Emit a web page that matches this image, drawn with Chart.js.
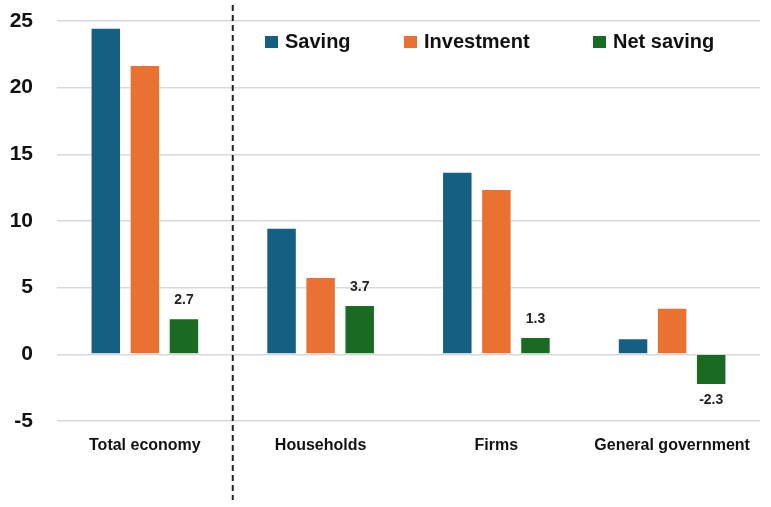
<!DOCTYPE html>
<html><head><meta charset="utf-8">
<script src="https://cdn.jsdelivr.net/npm/chart.js@4/dist/chart.umd.min.js"></script>
<style>html,body{margin:0;padding:0;background:#fff}#wrap{width:771px;height:507px}</style>
</head><body><div id="wrap"><canvas id="c" width="771" height="507"></canvas></div>
<script>
const categories = ["Total economy", "Households", "Firms", "General government"];
const saving = [24.5, 9.5, 13.7, 1.2];
const investment = [21.7, 5.8, 12.4, 3.5];
const netSaving = [2.7, 3.7, 1.3, -2.3];
const seriesNames = ["Saving", "Investment", "Net saving"];
const yTicks = [-5, 0, 5, 10, 15, 20, 25];

const colors = ["#156082", "#E97132", "#196B24"];

const legendPlugin = {
  id: 'customLegend',
  afterDraw(chart) {
    const ctx = chart.ctx;
    const xs = [265, 404, 593];
    ctx.save();
    ctx.font = "bold 20px 'Liberation Sans', Arial, sans-serif";
    ctx.textBaseline = 'middle';
    ctx.textAlign = 'left';
    chart.data.datasets.forEach((ds, i) => {
      ctx.fillStyle = ds.backgroundColor;
      ctx.fillRect(xs[i], 36, 13, 12);
      ctx.fillStyle = '#111';
      ctx.fillText(ds.label, xs[i] + 20, 42);
    });
    ctx.restore();
  }
};

const dividerPlugin = {
  id: 'divider',
  afterDatasetsDraw(chart) {
    const xs = chart.scales.x;
    const x = (xs.getPixelForValue(0) + xs.getPixelForValue(1)) / 2;
    const ctx = chart.ctx;
    ctx.save();
    ctx.strokeStyle = '#222';
    ctx.lineWidth = 2;
    ctx.setLineDash([6, 4]);
    ctx.beginPath();
    ctx.moveTo(x, 5);
    ctx.lineTo(x, 500);
    ctx.stroke();
    ctx.restore();
  }
};

const labelPlugin = {
  id: 'netLabels',
  afterDatasetsDraw(chart) {
    const ctx = chart.ctx;
    const meta = chart.getDatasetMeta(2);
    ctx.save();
    ctx.font = "bold 14px 'Liberation Sans', Arial, sans-serif";
    ctx.fillStyle = '#222';
    ctx.textAlign = 'center';
    ctx.textBaseline = 'middle';
    meta.data.forEach((bar, i) => {
      const v = netSaving[i];
      const y = v >= 0 ? bar.y - 18 : bar.y + 15;
      ctx.fillText(v.toFixed(1), bar.x, y);
    });
    ctx.restore();
  }
};

new Chart(document.getElementById('c'), {
  type: 'bar',
  data: {
    labels: categories,
    datasets: [
      { label: seriesNames[0], data: saving, backgroundColor: colors[0] },
      { label: seriesNames[1], data: investment, backgroundColor: colors[1] },
      { label: seriesNames[2], data: netSaving, backgroundColor: colors[2] }
    ].map(d => Object.assign(d, { borderColor: 'rgba(255,255,255,0.5)', borderWidth: 1, categoryPercentage: 0.667, barPercentage: 0.78 }))
  },
  options: {
    responsive: false,
    animation: false,
    devicePixelRatio: 1,
    layout: { padding: { top: 21, right: 11, left: 0, bottom: 0 } },
    plugins: { legend: { display: false }, tooltip: { enabled: false } },
    scales: {
      x: {
        grid: { display: false, drawTicks: false },
        border: { display: false },
        ticks: { color: '#111', padding: 15, font: { family: "'Liberation Sans', Arial, sans-serif", size: 16, weight: 'bold' }, maxRotation: 0, autoSkip: false },
        afterFit(s) { s.height = 86; }
      },
      y: {
        min: -5, max: 25,
        afterBuildTicks(s) { s.ticks = yTicks.map(v => ({ value: v })); },
        grid: { color: '#d9d9d9', lineWidth: 1.5, drawTicks: false },
        border: { display: false },
        ticks: { color: '#111', padding: 24, font: { family: "'Liberation Sans', Arial, sans-serif", size: 21, weight: 'bold' } },
        afterFit(s) { s.width = 57; s.paddingTop = 0; s.paddingBottom = 0; }
      }
    }
  },
  plugins: [legendPlugin, dividerPlugin, labelPlugin]
});
</script></body></html>
